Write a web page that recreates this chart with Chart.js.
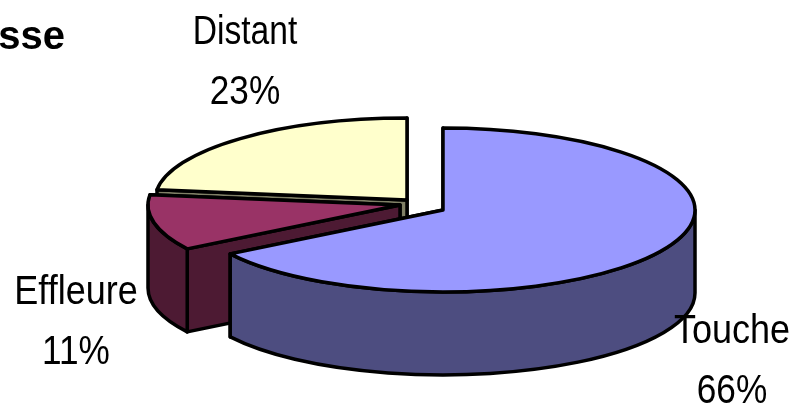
<!DOCTYPE html>
<html><head><meta charset="utf-8">
<style>html,body{margin:0;padding:0;background:#fff;overflow:hidden}canvas{display:block}</style>
<script src="https://cdn.jsdelivr.net/npm/chart.js@4/dist/chart.umd.js"></script>
</head><body><canvas id="c" width="797" height="405"></canvas>
<script>
const categories = ['Touche', 'Effleure', 'Distant'];
const values = [66, 11, 23];
const titleFragment = 'sse';
const topColors = ['#9999FF', '#993366', '#FFFFCC'];
const sideColors = ['#4D4D80', '#4D1A33', '#808066'];

const RADIUS = 252, SQUASH = 0.325, DEPTH = 83, LW = 3.5;
const sliceCentres = [[443, 210], [400, 205], [407, 200]];
const labelAnchors = [[732, 343], [76, 304], [245, 44]];
const labelWidthScale = [0.9, 0.9, 0.84];

const pie3d = {
  id: 'pie3d',
  beforeDatasetsDraw(chart) {
    const ctx = chart.ctx, arcs = chart.getDatasetMeta(0).data;
    const geom = arcs.map((a, i) => {
      // move each slice to its exploded position, in the unsquashed plane of the pie
      a.x = sliceCentres[i][0];
      a.y = sliceCentres[i][1] / SQUASH;
      return { cx: sliceCentres[i][0], cy: sliceCentres[i][1], rx: a.outerRadius, ry: a.outerRadius * SQUASH, a0: a.startAngle, a1: a.endAngle };
    });
    chart.$geom = geom;
    ctx.save();
    ctx.lineWidth = LW; ctx.strokeStyle = '#000'; ctx.lineJoin = 'round';
    [2, 1, 0].forEach((i) => {
      const g = geom[i];
      ctx.fillStyle = sideColors[i];
      [g.a1, g.a0].forEach((ang) => {
        const px = g.cx + Math.cos(ang) * g.rx, py = g.cy + Math.sin(ang) * g.ry;
        ctx.beginPath();
        ctx.moveTo(g.cx, g.cy); ctx.lineTo(px, py);
        ctx.lineTo(px, py + DEPTH); ctx.lineTo(g.cx, g.cy + DEPTH);
        ctx.closePath(); ctx.fill(); ctx.stroke();
      });
      const n0 = ((g.a0 % (2 * Math.PI)) + 2 * Math.PI) % (2 * Math.PI);
      const span = g.a1 - g.a0;
      const from = n0 > Math.PI ? 0 : n0;
      const to = Math.min(Math.PI, n0 + span - (n0 > Math.PI ? 2 * Math.PI : 0));
      if (to > from) {
        ctx.beginPath();
        ctx.ellipse(g.cx, g.cy, g.rx, g.ry, 0, from, to);
        ctx.ellipse(g.cx, g.cy + DEPTH, g.rx, g.ry, 0, to, from, true);
        ctx.closePath(); ctx.fill(); ctx.stroke();
      }
    });
    ctx.restore();
    ctx.save();
    ctx.scale(1, SQUASH);
  },
  afterDatasetsDraw(chart) {
    const ctx = chart.ctx;
    ctx.restore();
    ctx.save();
    ctx.lineWidth = LW; ctx.strokeStyle = '#000'; ctx.lineJoin = 'round';
    chart.$geom.forEach((g) => {
      ctx.beginPath();
      ctx.moveTo(g.cx, g.cy);
      ctx.ellipse(g.cx, g.cy, g.rx, g.ry, 0, g.a0, g.a1);
      ctx.closePath(); ctx.stroke();
    });
    ctx.restore();
    ctx.save();
    ctx.fillStyle = '#000'; ctx.textBaseline = 'alphabetic';
    const put = (t, x, y, font, sx, al) => {
      ctx.save(); ctx.translate(x, y); ctx.scale(sx, 1);
      ctx.font = font; ctx.textAlign = al || 'center'; ctx.fillText(t, 0, 0); ctx.restore();
    };
    const total = values.reduce((s, v) => s + v, 0);
    categories.forEach((c, i) => {
      const [x, y] = labelAnchors[i];
      put(c, x, y, '40px "Liberation Sans"', labelWidthScale[i]);
      put(Math.round(values[i] / total * 100) + '%', x, y + 60, '40px "Liberation Sans"', 0.88);
    });
    ctx.letterSpacing = '0px';
    put(titleFragment, 65, 49, 'bold 40px "Liberation Sans"', 1, 'right');
    ctx.restore();
  }
};

new Chart(document.getElementById('c'), {
  type: 'pie',
  data: {
    labels: categories,
    datasets: [{ data: values, backgroundColor: topColors, borderWidth: 0, radius: RADIUS, clip: false }]
  },
  options: {
    responsive: false, animation: false, devicePixelRatio: 1,
    layout: { padding: 0 },
    plugins: { legend: { display: false }, tooltip: { enabled: false }, title: { display: false } }
  },
  plugins: [pie3d]
});
</script></body></html>
